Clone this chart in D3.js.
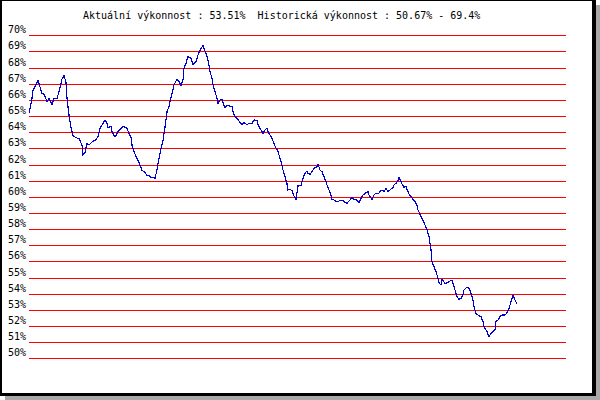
<!DOCTYPE html>
<html>
<head>
<meta charset="utf-8">
<script src="https://cdn.jsdelivr.net/npm/d3@7"></script>
<style>
  html, body { margin: 0; padding: 0; background: #fff; }
  svg { display: block; }
  text { font-family: "DejaVu Sans Mono", monospace; font-size: 10px; fill: #000; white-space: pre; }
</style>
</head>
<body>
<script>
// ---- data ----
const titleText = "Aktuální výkonnost : 53.51%  Historická výkonnost : 50.67% - 69.4%";
const yTicks = [50, 51, 52, 53, 54, 55, 56, 57, 58, 59, 60, 61, 62, 63, 64, 65, 66, 67, 68, 69, 70];
const tickLabels = yTicks.map(v => v + "%");
const days = [0,3,4,9,10,13,15,18,20,23,25,28,30,33,35,37,38,40,42,44,47,50,53,54,56,58,60,63,66,69,71,74,76,78,79,82,83,86,89,93,95,98,100,102,103,105,107,109,111,113,116,118,120,122,124,126,128,129,131,134,136,138,140,143,145,148,150,152,154,155,157,159,162,164,167,169,172,174,176,178,180,181,183,184,186,188,189,191,193,194,196,198,200,203,204,206,208,211,213,215,218,220,223,225,228,229,232,234,236,238,239,241,243,245,246,249,251,253,254,256,258,259,261,263,265,267,269,272,274,276,278,279,281,283,285,288,289,291,293,295,297,298,300,302,303,305,308,310,313,315,318,320,323,325,328,330,332,334,337,339,340,343,345,347,349,352,353,355,357,359,362,364,365,367,369,370,372,373,375,377,378,380,382,384,386,388,389,393,396,398,400,402,403,405,407,409,410,412,413,416,419,421,423,424,426,428,430,432,434,435,438,440,442,444,445,447,449,452,454,455,458,460,462,464,466,467,469,471,473,476,478,480,482,484,486,488];
const performance = [65.17,66.1,66.6,67.2,67.0,66.4,66.35,65.9,66.1,65.7,66.1,66.1,66.5,67.3,67.5,67.1,66.1,65.05,64.3,63.8,63.66,63.6,63.2,62.6,62.75,63.3,63.2,63.4,63.5,63.7,64.24,64.55,64.75,64.55,64.3,64.35,64.03,63.7,64.03,64.3,64.35,64.24,63.9,63.7,63.2,62.8,62.5,62.27,61.96,61.65,61.5,61.34,61.34,61.2,61.2,61.15,61.66,62.07,62.7,63.5,64.3,65.27,65.6,66.4,66.92,67.3,67.13,66.88,67.23,67.96,68.27,68.68,68.58,68.2,68.37,68.78,69.2,69.36,69.03,68.68,68.16,67.75,67.34,66.97,66.5,66.1,65.79,66.0,66.04,65.83,65.52,65.68,65.64,65.58,65.27,64.96,64.86,64.6,64.45,64.6,64.45,64.55,64.55,64.76,64.7,64.45,64.14,63.93,64.14,64.24,64.03,63.83,63.6,63.3,63.14,62.8,62.38,61.97,61.66,61.25,60.8,60.42,60.46,60.38,60.05,59.85,60.67,60.71,61.14,61.45,61.6,61.45,61.39,61.55,61.76,61.86,62.03,61.66,61.55,61.25,60.93,60.73,60.42,60.11,59.85,59.8,59.7,59.74,59.8,59.7,59.6,59.74,59.94,59.85,59.8,59.64,59.91,60.11,60.26,60.32,60.11,59.85,60.11,60.22,60.17,60.38,60.42,60.32,60.53,60.32,60.48,60.59,60.73,60.84,61.0,61.2,60.93,60.79,60.59,60.67,60.46,60.17,60.0,59.85,59.7,59.45,59.18,58.67,58.25,57.99,57.53,56.71,55.98,55.67,55.36,54.95,54.68,54.54,54.89,54.64,54.68,54.79,54.85,54.64,54.23,53.81,53.65,53.72,53.92,54.23,54.4,54.34,54.02,53.61,53.2,52.78,52.68,52.58,52.27,51.96,51.65,51.34,51.55,51.65,51.75,52.27,52.37,52.58,52.68,52.68,52.82,53.1,53.5,53.92,53.61,53.35];
const xDomain = [0, 537];

// ---- drawing ----
const W = 600, H = 400;
const svg = d3.select("body").append("svg").attr("width", W).attr("height", H);

// frame with shadow
svg.append("rect").attr("x", 5).attr("y", 5).attr("width", W - 5).attr("height", H - 5).attr("fill", "#a8a8a8");
svg.append("rect").attr("x", 0).attr("y", 0).attr("width", 596).attr("height", 396).attr("fill", "#000");
svg.append("rect").attr("x", 2).attr("y", 1).attr("width", 590).attr("height", 392).attr("fill", "#fff");

const x = d3.scaleLinear().domain(xDomain).range([29, 566]);
const y = d3.scaleLinear().domain([50, 70]).range([358.3, 35.3]);

// title
svg.append("text").attr("x", 83).attr("y", 19).attr("xml:space", "preserve").text(titleText);

// gridlines
const grid = svg.append("g").attr("shape-rendering", "crispEdges");
grid.selectAll("line").data(yTicks).join("line")
  .attr("x1", x(xDomain[0])).attr("x2", x(xDomain[1]))
  .attr("y1", d => Math.round(y(d)) + 0.5).attr("y2", d => Math.round(y(d)) + 0.5)
  .attr("stroke", "#ff0000").attr("stroke-width", 1);

// y labels
svg.append("g").selectAll("text").data(yTicks).join("text")
  .attr("x", 8).attr("y", d => Math.round(y(d)) - 2)
  .text((d, i) => tickLabels[i]);

// line
const pts = days.map((d, i) => [d, performance[i]]);
svg.append("path").datum(pts)
  .attr("fill", "none").attr("stroke", "#0000cc").attr("stroke-width", 1.2)
  .attr("shape-rendering", "crispEdges")
  .attr("d", d3.line().x(d => x(d[0])).y(d => y(d[1])));
</script>
</body>
</html>
